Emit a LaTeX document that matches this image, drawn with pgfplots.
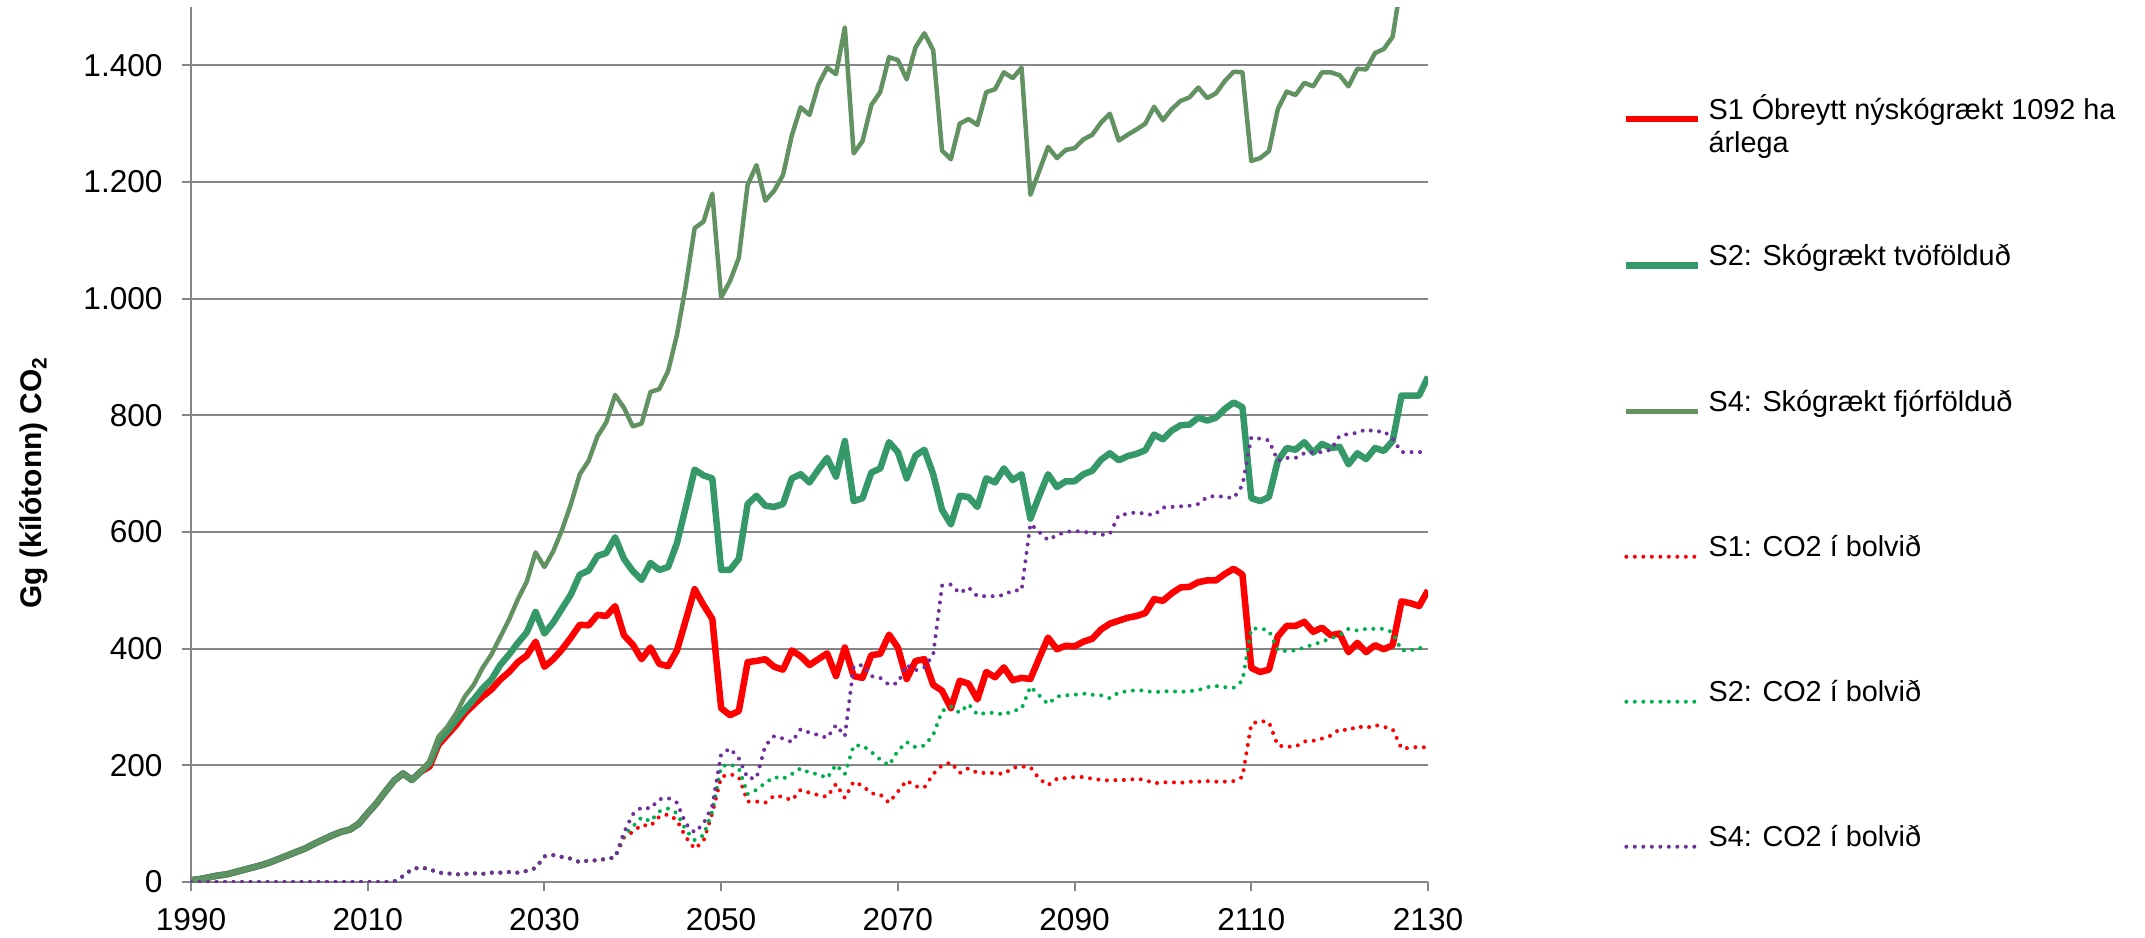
\documentclass[border=0pt]{standalone}
\usepackage{pgfplots}
\pgfplotsset{compat=1.18}
\usepackage{pgfplotstable}
\usepackage{fontspec}
\setmainfont{Liberation Sans}
\definecolor{sone}{RGB}{255,0,0}
\definecolor{stwo}{RGB}{53,152,104}
\definecolor{sfour}{RGB}{98,145,98}
\definecolor{done}{RGB}{255,0,0}
\definecolor{dtwo}{RGB}{0,176,80}
\definecolor{dfour}{RGB}{112,48,160}
\definecolor{gridc}{RGB}{134,134,134}
\pgfplotstableread{
year s1 s2 s4 d1 d2 d4
1990 3 3 3 0 0 0
1991 5 5 5 0 0 0
1992 8 8 8 0 0 0
1993 11 11 11 0 0 0
1994 13 13 13 0 0 0
1995 17 17 17 0 0 0
1996 21 21 21 0 0 0
1997 25 25 25 0 0 0
1998 29 29 29 0 0 0
1999 34 34 34 0 0 0
2000 40 40 40 0 0 0
2001 46 46 46 0 0 0
2002 52 52 52 0 0 0
2003 58 58 58 0 0 0
2004 66 66 66 0 0 0
2005 73 73 73 0 0 0
2006 80 80 80 0 0 0
2007 86 86 86 0 0 0
2008 90 90 90 0 0 0
2009 100 100 100 0 0 0
2010 118 118 118 0 0 0
2011 135 135 135 0 0 0
2012 155 155 155 0 0 0
2013 174 174 174 1 1 1
2014 186 186 186 10 10 10
2015 175 175 175 22 22 22
2016 189 189 189 25 25 25
2017 198 204 208 22 22 22
2018 235 241 249 16 16 16
2019 252 258 266 15 15 15
2020 269 278 289 13 13 13
2021 289 296 318 14 14 14
2022 304 313 338 15 15 15
2023 318 332 367 14 14 14
2024 330 347 390 16 16 16
2025 347 372 420 16 16 16
2026 360 390 450 17 17 17
2027 377 410 485 16 16 16
2028 388 428 515 19 19 19
2029 412 463 565 24 24 24
2030 369 426 540 44 44 44
2031 382 445 567 46 46 46
2032 399 469 604 43 43 43
2033 419 493 648 40 40 40
2034 441 527 699 34 34 34
2035 440 534 722 37 37 37
2036 458 559 764 37 37 37
2037 456 564 788 40 40 40
2038 473 591 835 42 42 42
2039 423 554 813 76 80 85
2040 407 533 781 86 95 116
2041 382 518 786 98 111 128
2042 402 547 840 96 104 126
2043 374 535 845 112 121 142
2044 370 540 876 116 126 144
2045 397 581 938 106 118 136
2046 449 643 1022 77 89 100
2047 502 707 1121 57 72 85
2048 475 697 1132 70 80 100
2049 451 692 1180 118 121 131
2050 298 535 1002 180 198 219
2051 286 535 1030 185 202 229
2052 293 554 1070 180 195 212
2053 377 648 1195 138 151 178
2054 379 662 1229 138 158 178
2055 382 645 1168 136 170 234
2056 369 643 1185 148 180 250
2057 364 648 1212 146 177 246
2058 397 692 1280 140 185 240
2059 387 699 1328 158 195 262
2060 372 685 1315 153 187 256
2061 382 707 1367 149 185 252
2062 392 727 1396 146 178 247
2063 353 695 1385 168 201 269
2064 402 756 1465 144 185 250
2065 353 653 1249 172 234 370
2066 350 658 1270 165 234 372
2067 389 702 1332 152 223 353
2068 391 709 1354 150 210 350
2069 424 754 1414 136 200 338
2070 402 737 1409 155 225 341
2071 348 692 1376 174 240 372
2072 379 731 1431 164 231 363
2073 382 741 1455 162 234 368
2074 338 699 1426 185 252 390
2075 328 638 1254 200 293 508
2076 298 613 1239 205 301 510
2077 345 662 1300 187 290 495
2078 340 660 1308 195 305 505
2079 313 643 1298 187 287 490
2080 360 692 1354 187 290 490
2081 351 685 1359 187 290 490
2082 368 709 1388 185 287 492
2083 346 689 1378 196 293 500
2084 350 699 1396 198 297 500
2085 348 623 1178 197 335 614
2086 384 662 1219 177 320 600
2087 419 699 1260 166 305 586
2088 399 677 1241 177 318 595
2089 405 687 1255 178 320 600
2090 404 687 1258 180 321 602
2091 412 699 1273 180 323 600
2092 417 705 1281 177 321 599
2093 433 724 1302 175 320 595
2094 443 735 1317 174 315 597
2095 448 723 1271 175 325 629
2096 453 730 1281 175 327 631
2097 456 734 1290 177 329 634
2098 461 740 1300 175 328 631
2099 485 767 1329 169 325 629
2100 482 759 1306 171 327 642
2101 495 774 1325 171 327 643
2102 505 783 1339 170 326 644
2103 506 784 1345 172 327 645
2104 514 796 1362 172 329 648
2105 517 791 1344 173 334 660
2106 517 796 1352 172 336 662
2107 528 811 1373 172 334 660
2108 537 822 1389 173 333 658
2109 527 814 1388 180 345 680
2110 367 658 1236 271 434 762
2111 360 653 1241 276 435 760
2112 364 660 1253 274 431 757
2113 421 722 1325 234 397 722
2114 439 744 1355 232 396 727
2115 439 741 1349 232 397 727
2116 446 754 1370 241 402 735
2117 429 736 1364 242 407 737
2118 436 751 1388 246 412 737
2119 423 744 1388 251 418 741
2120 426 746 1383 262 423 765
2121 394 716 1364 260 434 768
2122 410 735 1394 267 431 770
2123 394 725 1393 264 434 776
2124 406 744 1421 269 434 772
2125 399 739 1428 266 434 773
2126 406 756 1449 262 428 760
2127 481 834 1545 229 397 737
2128 478 834 1590 230 397 737
2129 473 834 1610 232 402 737
2130 500 866 1650 230 395 737
}\datatable
\begin{document}
\begin{tikzpicture}
\useasboundingbox (-19.1mm,-5.5mm) rectangle (195.4mm,88.2mm);
\begin{axis}[
  at={(0,0)}, anchor=south west,
  scale only axis, width=123.7mm, height=87.5mm,
  xmin=1990, xmax=2130, ymin=0, ymax=1500,
  axis x line*=bottom, axis y line*=left,
  axis line style={-, draw=gridc, line width=0.2mm},
  xtick={1990,2010,2030,2050,2070,2090,2110,2130},
  xticklabels={1990,2010,2030,2050,2070,2090,2110,2130},
  ytick={0,200,400,600,800,1000,1200,1400},
  yticklabels={0,200,400,600,800,1.000,1.200,1.400},
  tick align=outside, major tick length=0.9mm,
  tick style={draw=gridc, line width=0.2mm},
  minor tick num=0,
  ymajorgrids, major grid style={draw=gridc, line width=0.2mm},
  tick label style={font=\fontsize{9}{10.5}\selectfont, text=black},
  xticklabel style={yshift=-0.5mm},
  yticklabel style={xshift=-0.7mm},
  ylabel={Gg (kílótonn) CO\textsubscript{2}},
  ylabel style={at={(axis description cs:-0.127,0.457)}, anchor=center, font=\bfseries\fontsize{8.5}{10}\selectfont},
  legend cell align=left,
  legend image code/.code={\draw[#1] (0mm,0mm) -- (7.2mm,0mm);},
  legend style={
    at={(1.1577,0.9063)}, anchor=north west,
    draw=none, fill=none, inner sep=0pt, outer sep=0pt,
    row sep=11.3mm, column sep=0.7mm,
    font=\fontsize{8.2}{9.4}\selectfont,
    nodes={inner sep=0pt, text height=3mm, text depth=0mm, anchor=base west},
  },
]
\addplot[sone, line width=0.65mm, line join=round] table[x=year, y=s1] {\datatable};
\addlegendentry{\parbox[t]{60mm}{S1 Óbreytt nýskógrækt 1092 ha\\árlega}}
\addplot[stwo, line width=0.65mm, line join=round] table[x=year, y=s2] {\datatable};
\addlegendentry{S2: Skógrækt tvöfölduð}
\addplot[sfour, line width=0.45mm, line join=round] table[x=year, y=s4] {\datatable};
\addlegendentry{S4: Skógrækt fjórfölduð}
\addplot[done, line width=0.4mm, line cap=round, dash pattern=on 0pt off 0.85mm] table[x=year, y=d1] {\datatable};
\addlegendentry{S1: CO2 í bolvið}
\addplot[dtwo, line width=0.4mm, line cap=round, dash pattern=on 0pt off 0.85mm] table[x=year, y=d2] {\datatable};
\addlegendentry{S2: CO2 í bolvið}
\addplot[dfour, line width=0.4mm, line cap=round, dash pattern=on 0pt off 0.85mm] table[x=year, y=d4] {\datatable};
\addlegendentry{S4: CO2 í bolvið}
\end{axis}
\end{tikzpicture}
\end{document}
